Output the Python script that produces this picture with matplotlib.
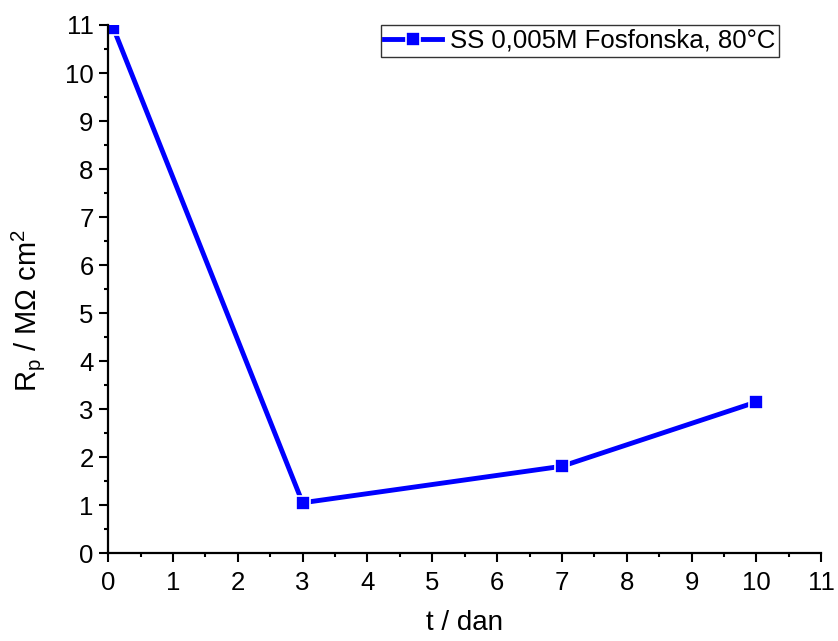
import matplotlib
matplotlib.use("Agg")
import matplotlib.pyplot as plt
from matplotlib.ticker import MultipleLocator

plt.rcParams['font.family'] = ['Liberation Sans', 'DejaVu Sans']
plt.rcParams['mathtext.fontset'] = 'custom'
plt.rcParams['mathtext.rm'] = 'Liberation Sans'
plt.rcParams['mathtext.it'] = 'Liberation Sans'

t_days = [0.083, 3, 7, 10]
rp_values = [10.93, 1.05, 1.81, 3.15]
series_label = "SS 0,005M Fosfonska, 80°C"
x_ticks = list(range(0, 12))
y_ticks = list(range(0, 12))

fig = plt.figure(figsize=(8.38, 6.41), dpi=100)
ax = fig.add_axes([0.129, 0.137, 0.851, 0.824])

ax.plot(t_days, rp_values, color='#0000FF', lw=3.5, marker='s', ms=10,
        mec='white', mew=1.2, mfc='#0000FF', label=series_label, clip_on=True)

ax.set_xlim(0, 11)
ax.set_ylim(0, 11)
ax.set_xticks(x_ticks)
ax.set_yticks(y_ticks)
ax.xaxis.set_minor_locator(MultipleLocator(0.5))
ax.yaxis.set_minor_locator(MultipleLocator(0.5))
ax.tick_params(which='major', direction='out', length=6.5, width=1.5, labelsize=18.5)
ax.tick_params(axis='x', which='major', pad=6)
ax.tick_params(axis='y', which='major', pad=4)
ax.tick_params(which='minor', direction='out', length=3.2, width=1.5)
for s in ['top', 'right']:
    ax.spines[s].set_visible(False)
for s in ['left', 'bottom']:
    ax.spines[s].set_linewidth(1.6)

ax.set_xlabel("t / dan", fontsize=20, labelpad=11)
ax.set_ylabel(r"R$_\mathregular{p}$ / MΩ cm$^\mathregular{2}$", fontsize=21)
ax.yaxis.set_label_coords(-0.085, 0.46)

leg = ax.legend(loc='upper right', bbox_to_anchor=(0.941, 1.0), fontsize=18.5,
                frameon=True, fancybox=False, edgecolor='black', borderpad=0.15,
                handlelength=2.25, handletextpad=0.3, borderaxespad=0)
leg.get_frame().set_linewidth(1.0)

fig.savefig("out.png", dpi=100)
